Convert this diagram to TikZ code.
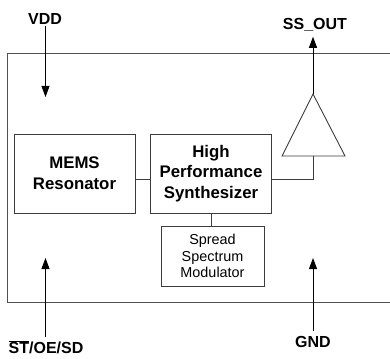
\documentclass[tikz,border=0pt]{standalone}
\usepackage{fontspec}
\setmainfont{Liberation Sans}
\usetikzlibrary{arrows.meta,positioning,calc}
\definecolor{ink}{HTML}{000000}
\definecolor{edge}{HTML}{3C3C3C}
\definecolor{frame}{HTML}{505050}
\tikzset{
  blockbig/.style={draw=edge,line width=0.9pt,align=center,text=ink,
    font=\bfseries\fontsize{16.8}{20.8}\selectfont,inner sep=0pt,
    minimum width=121pt,minimum height=79pt},
  blocksmall/.style={draw=edge,line width=0.9pt,align=center,text=ink,
    font=\fontsize{14.4}{16.4}\selectfont,inner sep=0pt,
    minimum width=103pt,minimum height=60pt},
  pinlabel/.style={font=\bfseries\fontsize{16}{19}\selectfont,text=ink,inner sep=1pt},
  sig/.style={-{Triangle[length=11pt,width=8pt]},line width=0.9pt,ink},
  wire/.style={draw=edge,line width=0.9pt},
}
\newcommand{\blk}[4]{%
  \node[#3] (#1) at #2 {#4};}

\begin{document}
\begin{tikzpicture}[x=1pt,y=-1pt]
  \useasboundingbox (0,0) rectangle (390,358);

  % Chip outline, open towards the right edge.
  \draw[frame,line width=0.9pt] (390,53) -- (7,53) -- (7,302) -- (390,302);

  % Blocks inside the chip
  \blk{mems}{(74.5,173.5)}{blockbig}{MEMS\\Resonator}
  \blk{synth}{(211,173.5)}{blockbig}{High\\Performance\\Synthesizer}
  \blk{ssmod}{(212.5,256)}{blocksmall}{Spread\\Spectrum\\Modulator}

  % Output buffer
  \coordinate (ampin) at (313,156);
  \coordinate (ampout) at (313,94);
  \draw[wire] (282,156) -- (ampout) -- (345,156) -- cycle;

  \draw[wire] ([yshift=-5.5pt]mems.east) -- ([yshift=-5.5pt]synth.west);
  \draw[wire] ([yshift=-5.5pt]synth.east) -| (ampin);
  \draw[wire] (synth.south) -- (synth.south |- ssmod.north);

  % Pins
  \node[pinlabel] (vdd) at (45,19) {VDD};
  \node[pinlabel] (ssout) at (315,25) {SS\_OUT};
  \node[pinlabel] (stoe) at (46,347.5) {$\overline{\mbox{ST}}$/OE/SD};
  \node[pinlabel] (gnd) at (313,342) {GND};
  \coordinate (vddtip) at (45.5,97);
  \coordinate (stoetip) at (45.5,258);
  \coordinate (gndtip) at (313,258);

  \draw[sig] (vdd.south -| vddtip) -- (vddtip);
  \draw[sig] (ampout) -- ([yshift=-4pt]ssout.south -| ampout);
  \draw[sig,shorten <=3pt] (stoe.north -| stoetip) -- (stoetip);
  \draw[sig,shorten <=4pt] (gnd.north) -- (gndtip);
\end{tikzpicture}
\end{document}
